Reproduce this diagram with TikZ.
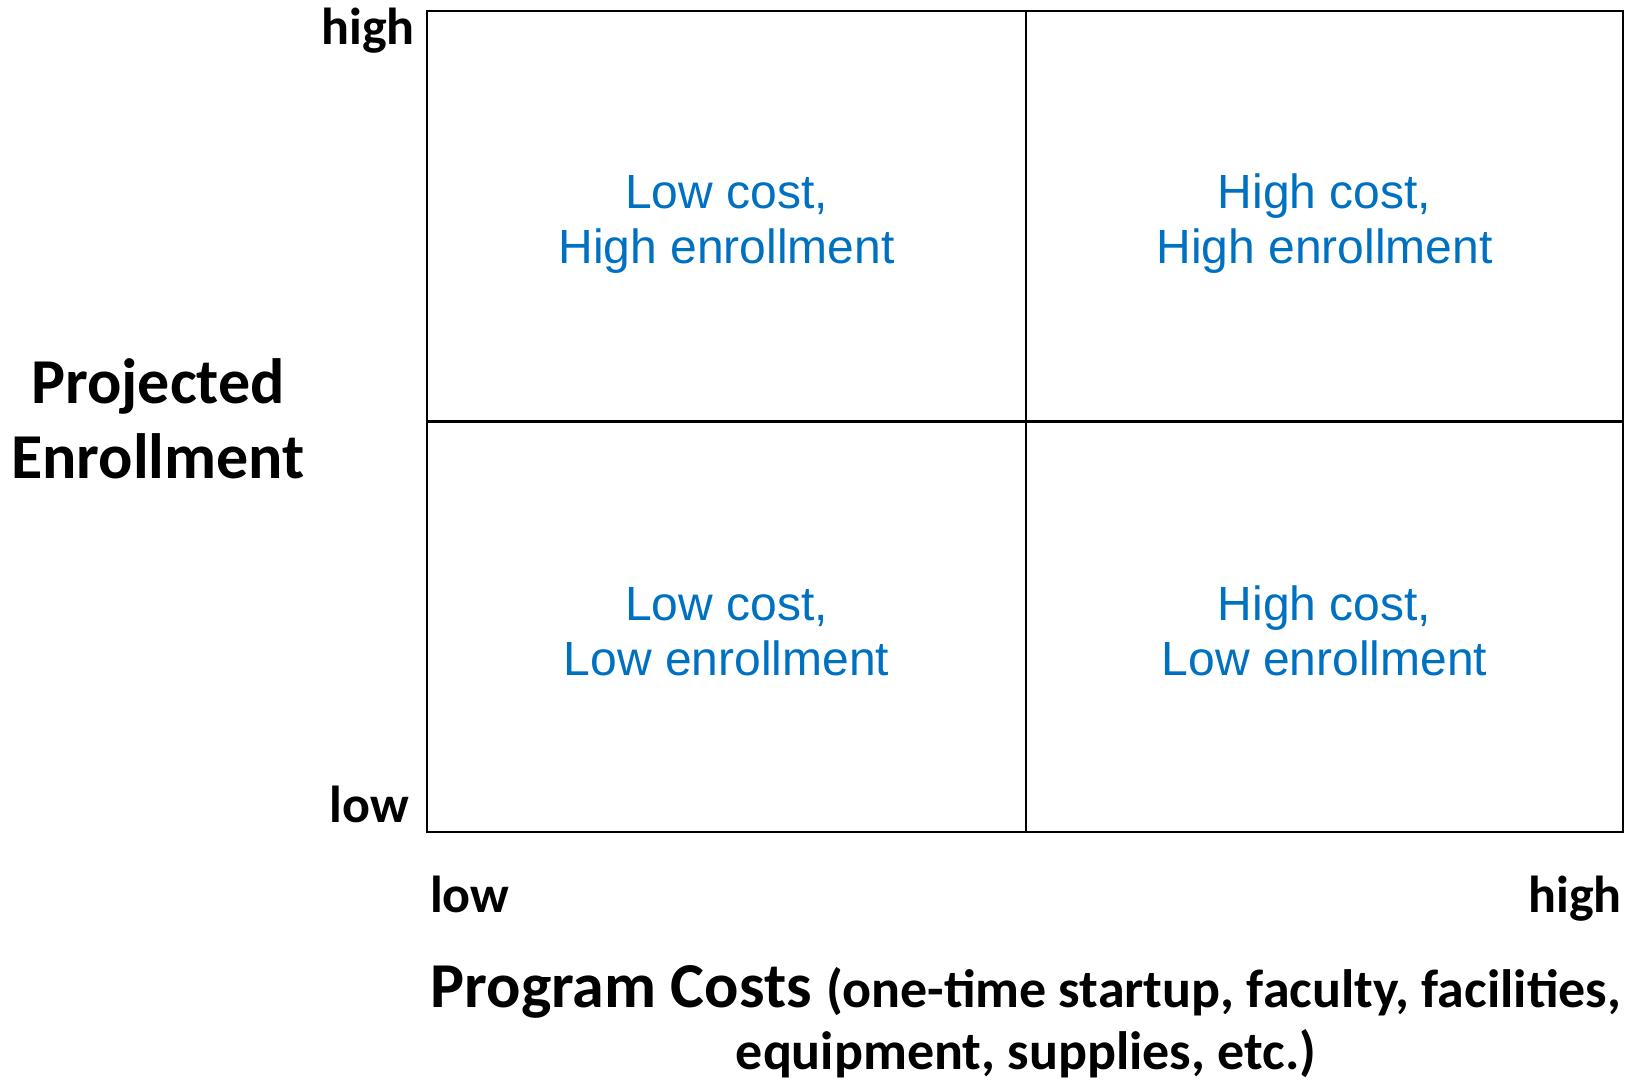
\documentclass[tikz,border=0pt]{standalone}
\usepackage{fontspec}
\setmainfont{Carlito}
\newfontfamily\arialf{Liberation Sans}
\definecolor{qblue}{RGB}{0,112,192}
\tikzset{
  axlab/.style={inner sep=0pt, font=\bfseries\fontsize{52}{62}\selectfont},
  quad/.style={inner sep=0pt, align=center, text=qblue, font=\arialf\fontsize{48}{55}\selectfont, anchor=base},
  gridline/.style={line width=2.2pt, black},
}
\begin{document}
\begin{tikzpicture}[x=1pt,y=-1pt]
\useasboundingbox (0,0) rectangle (1628,1086);
% grid
\coordinate (tl) at (427,11);
\coordinate (br) at (1623,832);
\coordinate (tm) at (1026,11);
\coordinate (bm) at (1026,832);
\coordinate (ml) at (427,421.5);
\coordinate (mr) at (1623,421.5);
\draw[gridline] (tl) rectangle (br);
\draw[gridline] (tm) -- (bm);
\draw[gridline] (ml) -- (mr);
% axis tick labels
\node[axlab, anchor=base east] (yhigh) at (415,45) {high};
\node[axlab, anchor=base east] (ylow) at (409,822) {low};
\node[axlab, anchor=base west] (xlow) at (430,912) {low};
\node[axlab, anchor=base east] (xhigh) at (1622,912) {high};
% axis titles
\node[inner sep=0pt, align=center, font=\bfseries\fontsize{64}{75}\selectfont, anchor=base] (ytitle) at (158,478) {Projected\\Enrollment};
\node[inner sep=0pt, anchor=base] (xtitle1) at (1026,1007) {\bfseries\fontsize{64}{75}\selectfont Program Costs \fontsize{54}{64}\selectfont(one-time startup, faculty, facilities,};
\node[inner sep=0pt, anchor=base, font=\bfseries\fontsize{54}{64}\selectfont] (xtitle2) at (1026,1069) {equipment, supplies, etc.)};
% quadrants
\node[quad] (q1) at (726.5,264) {Low cost,\\High enrollment};
\node[quad] (q2) at (1324.5,264) {High cost,\\High enrollment};
\node[quad] (q3) at (726.5,675) {Low cost,\\Low enrollment};
\node[quad] (q4) at (1324.5,675) {High cost,\\Low enrollment};
\end{tikzpicture}
\end{document}
